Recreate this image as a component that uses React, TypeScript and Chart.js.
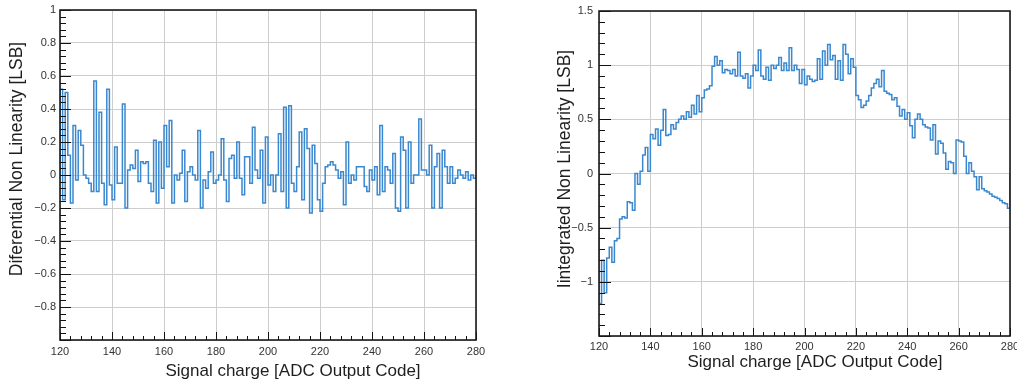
import React, { useEffect, useRef } from 'react';
import { Chart, registerables } from 'chart.js';

Chart.register(...registerables);

// ---- data ----
const FIRST_CODE = 120;
const LAST_CODE = 280;
const X_TICK_LABELS = ['120', '140', '160', '180', '200', '220', '240', '260', '280'];

// Differential non linearity per ADC code (120 ... 279)
const DNL_VALUES = [
  0.52, -0.15, 0.5, 0.12, -0.17, 0.3, -0.03, 0.27, 0.18, 0.0,
  -0.02, -0.05, -0.1, 0.57, -0.1, 0.38, -0.05, -0.18, 0.52, -0.06,
  -0.15, 0.17, -0.05, -0.05, 0.43, -0.2, 0.03, 0.06, 0.04, 0.15,
  -0.04, 0.08, 0.07, 0.08, -0.05, -0.1, 0.21, -0.17, 0.2, -0.08,
  0.3, 0.05, 0.33, -0.17, 0.0, -0.03, 0.01, 0.15, -0.16, 0.02,
  0.05, 0.0, -0.03, 0.27, -0.2, -0.03, -0.08, 0.02, 0.14, -0.05,
  -0.03, 0.0, 0.22, -0.03, -0.16, 0.1, 0.12, -0.02, 0.2, -0.02,
  -0.12, 0.11, 0.11, -0.05, 0.29, 0.03, -0.02, 0.15, -0.17, 0.23,
  -0.06, 0.0, -0.1, 0.0, 0.25, -0.1, 0.41, -0.2, 0.42, -0.05,
  -0.1, 0.05, 0.26, -0.15, 0.28, 0.16, -0.23, 0.18, 0.07, -0.15,
  -0.22, -0.05, 0.05, 0.06, 0.08, 0.06, 0.03, -0.02, 0.02, -0.18,
  0.2, -0.05, 0.0, -0.03, 0.05, 0.05, 0.05, -0.07, -0.1, 0.03,
  -0.03, 0.05, -0.12, 0.3, -0.1, 0.05, 0.03, -0.05, 0.13, -0.2,
  -0.22, 0.23, 0.15, -0.2, 0.2, -0.05, 0.0, 0.0, 0.34, 0.03,
  0.03, 0.0, 0.18, -0.2, 0.05, 0.13, -0.2, 0.15, 0.05, -0.05,
  0.05, -0.05, -0.02, 0.03, 0.0, -0.02, 0.02, -0.03, 0.0, -0.02,
];

// Integrated non linearity per ADC code (120 ... 279)
const INL_VALUES = [
  -1.2, -0.8, -1.1, -0.78, -0.68, -0.82, -0.62, -0.6, -0.42, -0.4,
  -0.41, -0.26, -0.27, -0.34, 0.0, -0.1, 0.02, 0.17, 0.24, 0.02,
  0.36, 0.32, 0.41, 0.26, 0.4, 0.59, 0.35, 0.36, 0.45, 0.41,
  0.47, 0.5, 0.53, 0.5, 0.57, 0.52, 0.63, 0.55, 0.72, 0.57,
  0.7, 0.77, 0.78, 0.81, 0.99, 1.08, 1.0, 1.04, 0.93, 0.96,
  0.95, 0.92, 0.96, 0.9, 1.12, 0.9, 0.88, 0.92, 0.79, 0.9,
  1.0, 0.95, 1.14, 0.9, 0.87, 0.98, 0.86, 1.0, 0.97, 1.0,
  1.07, 0.95, 1.02, 0.95, 1.16, 0.95, 1.0, 0.96, 0.83, 0.96,
  0.82, 0.9, 0.87, 0.85, 0.86, 1.06, 0.87, 1.13, 1.0, 1.19,
  1.05, 1.09, 0.87, 1.04, 0.86, 1.19, 1.1, 0.92, 1.06, 0.98,
  0.72, 0.68, 0.61, 0.63, 0.67, 0.72, 0.79, 0.83, 0.87, 0.8,
  0.95, 0.76, 0.74, 0.73, 0.68, 0.7, 0.62, 0.53, 0.59, 0.5,
  0.56, 0.44, 0.33, 0.5, 0.55, 0.5, 0.45, 0.43, 0.42, 0.31,
  0.45, 0.18, 0.3, 0.28, 0.19, 0.04, 0.11, 0.1, 0.0, 0.31,
  0.3, 0.29, 0.16, 0.0, 0.1, 0.02, -0.03, -0.15, -0.03, -0.14,
  -0.16, -0.17, -0.19, -0.21, -0.22, -0.23, -0.25, -0.27, -0.28, -0.32,
];

const X_TITLE = 'Signal charge [ADC Output Code]';
const DNL_TITLE = 'Diferential Non Linearity [LSB]';
const INL_TITLE = 'Iintegrated Non Linearity [LSB]';

const FONT = '"Liberation Sans", Arial, Helvetica, sans-serif';
const LINE_COLOR = '#3a88cf';

// build histogram outline points (ROOT "HIST" style: starts/ends at 0)
function histPoints(values: number[]) {
  const pts: { x: number; y: number }[] = [{ x: FIRST_CODE, y: 0 }];
  values.forEach((v, i) => pts.push({ x: FIRST_CODE + i, y: v }));
  pts.push({ x: LAST_CODE, y: values[values.length - 1] });
  pts.push({ x: LAST_CODE, y: 0 });
  return pts;
}

type DecorCfg = {
  yMin: number; yMax: number; yMajor: number; yMinor: number;
  yMajorLen: number; yMinorLen: number;
  xTitleX: number; xTitleY: number; yTitleX: number; yTitleY: number;
  yTitle: string;
};

function decorPlugin(cfg: DecorCfg) {
  return {
    id: 'rootDecor',
    afterDraw(chart: any) {
      const { ctx, chartArea: a, scales } = chart;
      const xs = scales.x;
      const ys = scales.y;
      ctx.save();
      ctx.strokeStyle = '#111';
      ctx.lineWidth = 1;
      ctx.beginPath();
      // x ticks (inward)
      for (let k = 0; k <= (LAST_CODE - FIRST_CODE) / 4; k++) {
        const v = FIRST_CODE + k * 4;
        const px = Math.round(xs.getPixelForValue(v)) + 0.5;
        const len = k % 5 === 0 ? 8 : 4;
        ctx.moveTo(px, a.bottom);
        ctx.lineTo(px, a.bottom - len);
      }
      // y ticks (inward)
      const nMinor = Math.round((cfg.yMax - cfg.yMin) / cfg.yMinor);
      const per = Math.round(cfg.yMajor / cfg.yMinor);
      for (let k = 0; k <= nMinor; k++) {
        const v = cfg.yMin + k * cfg.yMinor;
        const py = Math.round(ys.getPixelForValue(v)) + 0.5;
        const len = k % per === 0 ? cfg.yMajorLen : cfg.yMinorLen;
        ctx.moveTo(a.left, py);
        ctx.lineTo(a.left + len, py);
      }
      ctx.stroke();
      // frame
      ctx.lineWidth = 1.6;
      ctx.strokeStyle = '#1a1a1a';
      ctx.strokeRect(a.left, a.top, a.right - a.left, a.bottom - a.top);
      // titles
      ctx.fillStyle = '#1e1e1e';
      ctx.textAlign = 'center';
      ctx.textBaseline = 'middle';
      ctx.font = `17px ${FONT}`;
      ctx.fillText(X_TITLE, cfg.xTitleX, cfg.xTitleY);
      ctx.translate(cfg.yTitleX, cfg.yTitleY);
      ctx.rotate(-Math.PI / 2);
      ctx.font = `17.5px ${FONT}`;
      ctx.fillText(cfg.yTitle, 0, 0);
      ctx.restore();
    },
  };
}

function fmt(v: number) {
  const r = Math.round(v * 100) / 100;
  const s = String(Math.abs(r));
  return r < 0 ? '\u2212' + s : s;
}

type PanelProps = {
  values: number[];
  width: number;
  left: number;
  area: { left: number; right: number; top: number; bottom: number };
  yMin: number; yMax: number; yStep: number; yMinor: number;
  yMajorLen: number; yMinorLen: number;
  yLabelPad: number;
  xLabelPad: number;
  xTitle: [number, number];
  yTitle: [number, number];
  yTitleText: string;
};

function Panel(p: PanelProps) {
  const ref = useRef<HTMLCanvasElement>(null);
  useEffect(() => {
    if (!ref.current) return;
    const H = 385;
    const chart = new Chart(ref.current, {
      type: 'line',
      data: {
        datasets: [
          {
            data: histPoints(p.values),
            stepped: 'before',
            borderColor: LINE_COLOR,
            borderWidth: 1.5,
            pointRadius: 0,
            fill: false,
            tension: 0,
          } as any,
        ],
      },
      options: {
        animation: false,
        responsive: false,
        devicePixelRatio: 1,
        events: [],
        layout: {
          padding: {
            left: 0,
            top: p.area.top,
            right: p.width - p.area.right,
            bottom: 0,
          },
        },
        plugins: {
          legend: { display: false },
          tooltip: { enabled: false },
          title: { display: false },
        },
        scales: {
          x: {
            type: 'linear',
            min: FIRST_CODE,
            max: LAST_CODE,
            ticks: {
              stepSize: 20,
              autoSkip: false,
              maxRotation: 0,
              padding: p.xLabelPad,
              color: '#333',
              font: { family: FONT, size: 11 },
              callback: (v: any) => {
                const idx = Math.round((Number(v) - FIRST_CODE) / 20);
                return X_TICK_LABELS[idx] ?? '';
              },
            },
            grid: { color: '#cdcdcd', lineWidth: 1, drawTicks: false },
            border: { display: false },
            afterFit: (s: any) => {
              s.height = H - p.area.bottom;
              s.paddingLeft = 0;
              s.paddingRight = 0;
            },
          },
          y: {
            type: 'linear',
            min: p.yMin,
            max: p.yMax,
            ticks: {
              stepSize: p.yStep,
              autoSkip: false,
              padding: p.yLabelPad,
              color: '#333',
              font: { family: FONT, size: 11 },
              callback: (v: any) => {
                const n = Number(v);
                if (Math.abs(n - p.yMin) < 1e-6) return '';
                return fmt(n);
              },
            },
            grid: { color: '#cdcdcd', lineWidth: 1, drawTicks: false },
            border: { display: false },
            afterFit: (s: any) => {
              s.width = p.area.left;
              s.paddingTop = 0;
              s.paddingBottom = 0;
            },
          },
        },
      } as any,
      plugins: [
        decorPlugin({
          yMin: p.yMin, yMax: p.yMax, yMajor: p.yStep, yMinor: p.yMinor,
          yMajorLen: p.yMajorLen, yMinorLen: p.yMinorLen,
          xTitleX: p.xTitle[0], xTitleY: p.xTitle[1],
          yTitleX: p.yTitle[0], yTitleY: p.yTitle[1],
          yTitle: p.yTitleText,
        }) as any,
      ],
    });
    return () => chart.destroy();
  }, []);
  return (
    <canvas
      ref={ref}
      width={p.width}
      height={385}
      style={{ position: 'absolute', left: p.left, top: 0, width: p.width, height: 385 }}
    />
  );
}

export default function App() {
  return (
    <div style={{ position: 'absolute', left: 0, top: 0, width: 1017, height: 385, background: '#fff', overflow: 'hidden' }}>
      <Panel
        values={DNL_VALUES}
        width={500}
        left={0}
        area={{ left: 60, right: 476, top: 10, bottom: 340 }}
        yMin={-1}
        yMax={1}
        yStep={0.2}
        yMinor={0.04}
        yMajorLen={11}
        yMinorLen={6}
        yLabelPad={4}
        xLabelPad={5}
        xTitle={[293, 371]}
        yTitle={[17, 159]}
        yTitleText={DNL_TITLE}
      />
      <Panel
        values={INL_VALUES}
        width={517}
        left={500}
        area={{ left: 99, right: 510, top: 11, bottom: 336 }}
        yMin={-1.5}
        yMax={1.5}
        yStep={0.5}
        yMinor={0.1}
        yMajorLen={12}
        yMinorLen={6}
        yLabelPad={6}
        xLabelPad={4}
        xTitle={[315, 362]}
        yTitle={[65, 169]}
        yTitleText={INL_TITLE}
      />
    </div>
  );
}
